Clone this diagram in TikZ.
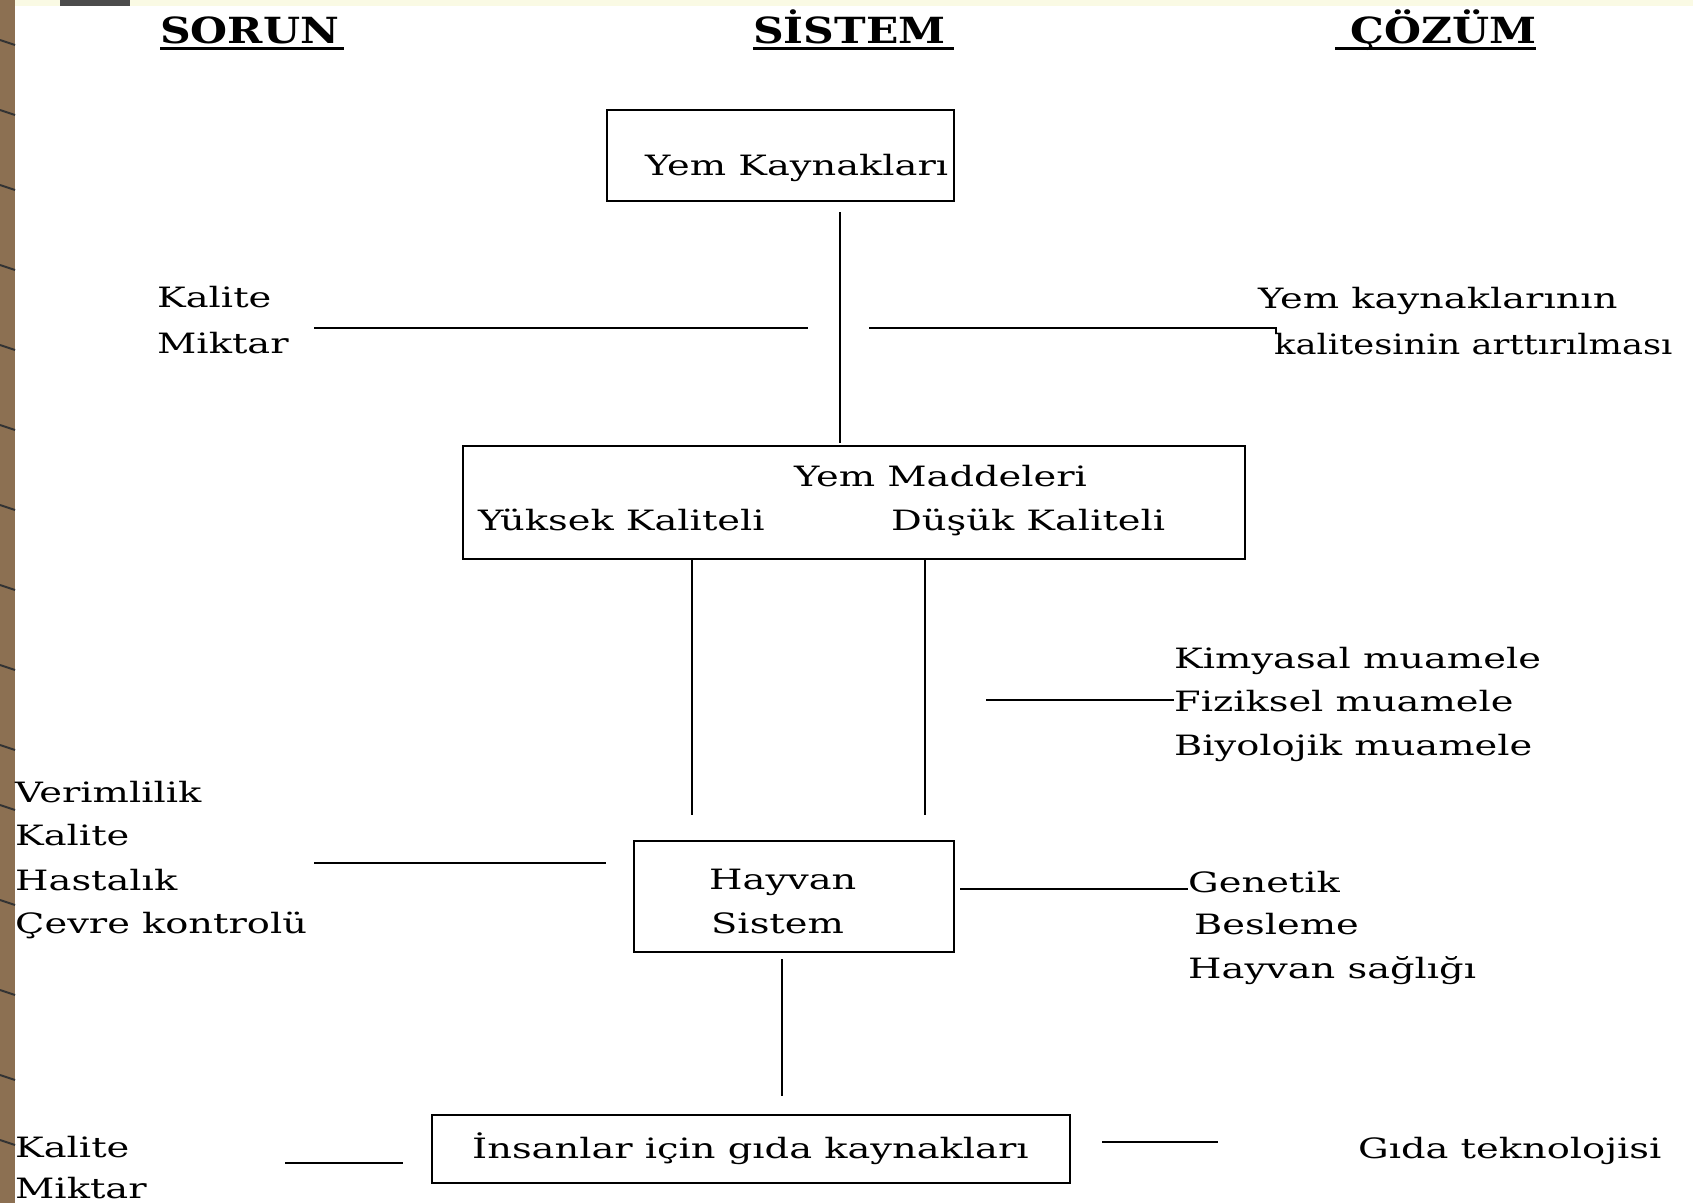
\documentclass[tikz,border=0pt]{standalone}
\usepackage{fontspec}
\setmainfont{DejaVu Serif}[FakeStretch=1.37]
\newfontfamily\hfont{DejaVu Serif}[FakeStretch=1.18]
\newfontfamily\narrowf{DejaVu Serif}[FakeStretch=1.26]
\definecolor{brownstrip}{RGB}{140,112,82}
\definecolor{topband}{RGB}{250,250,228}
\begin{document}
\begin{tikzpicture}[x=1pt,y=-1pt,
  txt/.style={inner sep=0pt, anchor=base west, font=\fontsize{28}{44}\selectfont},
  hdr/.style={inner sep=0pt, anchor=base west, font=\hfont\bfseries\fontsize{36}{40}\selectfont},
  box/.style={draw, line width=1.8pt, inner sep=0pt},
  ln/.style={line width=1.8pt},
  uline/.style={line width=3pt}]
\useasboundingbox (0,0) rectangle (1693,1203);
\fill[white] (0,0) rectangle (1693,1203);
% decorative frame
\fill[topband] (15,0) rectangle (1693,6);
\fill[black!70] (60,0) rectangle (130,6);
\fill[brownstrip] (0,0) rectangle (15,1203);
\foreach \yy in {40,110,185,265,345,425,505,585,665,745,805,900,990,1075,1140}{
  \draw[black!80, line width=2pt] (0,\yy) -- (15,\yy+5);
}
% headers
\node[hdr] (h1) at (160,43) {SORUN};
\node[hdr] (h2) at (753,43) {SİSTEM};
\node[hdr] (h3) at (1350,43) {ÇÖZÜM};
\draw[uline] ([yshift=-5pt]h1.base west) -- ([yshift=-5pt,xshift=5pt]h1.base east);
\draw[uline] ([yshift=-5pt]h2.base west) -- ([yshift=-5pt,xshift=8pt]h2.base east);
\draw[uline] ([yshift=-5pt,xshift=-15pt]h3.base west) -- ([yshift=-5pt]h3.base east);
% boxes
\node[box, minimum width=347pt, minimum height=91pt] (b1) at (780.5,155.5) {};
\node[box, minimum width=782pt, minimum height=113pt] (b2) at (854,502.5) {};
\node[box, minimum width=320pt, minimum height=111pt] (b3) at (794,896.5) {};
\node[box, minimum width=638pt, minimum height=68pt] (b4) at (751,1149) {};
% box texts
\node[txt] (t1) at (645,175) {Yem Kaynakları};
\node[txt] (t2a) at (794,486) {Yem Maddeleri};
\node[txt] (t2b) at (478,530) {Yüksek Kaliteli};
\node[txt] (t2c) at (891,530) {Düşük Kaliteli};
\node[txt] (t3a) at (709,889) {Hayvan};
\node[txt] (t3b) at (711,933) {Sistem};
\node[txt] (t4) at (472,1158) {İnsanlar için gıda kaynakları};
% side texts
\node[txt] (p1a) at (157,307) {Kalite};
\node[txt] (p1b) at (157,353) {Miktar};
\node[txt] (s1a) at (1258,308) {Yem kaynaklarının};
\node[txt, font=\narrowf\fontsize{28}{44}\selectfont] (s1b) at (1274,354) {kalitesinin arttırılması};
\node[txt] (s2a) at (1174,668) {Kimyasal muamele};
\node[txt] (s2b) at (1174,711) {Fiziksel muamele};
\node[txt] (s2c) at (1174,755) {Biyolojik muamele};
\node[txt] (p3a) at (15,802) {Verimlilik};
\node[txt] (p3b) at (15,845) {Kalite};
\node[txt] (p3c) at (15,890) {Hastalık};
\node[txt] (p3d) at (15,933) {Çevre kontrolü};
\node[txt] (s3a) at (1188,892) {Genetik};
\node[txt] (s3b) at (1194,934) {Besleme};
\node[txt] (s3c) at (1188,978) {Hayvan sağlığı};
\node[txt] (p4a) at (15,1157) {Kalite};
\node[txt] (p4b) at (15,1198) {Miktar};
\node[txt] (s4) at (1358,1158) {Gıda teknolojisi};
% connector end points
\coordinate (v1s) at (840,212); \coordinate (v1e) at (840,443);
\coordinate (h1ls) at (314,328); \coordinate (h1le) at (808,328);
\coordinate (h1rs) at (869,328); \coordinate (h1re) at (1276,328); \coordinate (h1rt) at (1276,334);
\coordinate (v2as) at (692,559); \coordinate (v2ae) at (692,815);
\coordinate (v2bs) at (925,559); \coordinate (v2be) at (925,815);
\coordinate (h2s) at (986,700); \coordinate (h2e) at (1174,700);
\coordinate (h3ls) at (314,863); \coordinate (h3le) at (606,863);
\coordinate (h3rs) at (960,889); \coordinate (h3re) at (1188,889);
\coordinate (v3s) at (782,959); \coordinate (v3e) at (782,1096);
\coordinate (h4ls) at (285,1163); \coordinate (h4le) at (403,1163);
\coordinate (h4rs) at (1102,1142); \coordinate (h4re) at (1218,1142);
% connectors
\draw[ln] (v1s) -- (v1e);
\draw[ln] (h1ls) -- (h1le);
\draw[ln] (h1rs) -- (h1re) -- (h1rt);
\draw[ln] (v2as) -- (v2ae);
\draw[ln] (v2bs) -- (v2be);
\draw[ln] (h2s) -- (h2e);
\draw[ln] (h3ls) -- (h3le);
\draw[ln] (h3rs) -- (h3re);
\draw[ln] (v3s) -- (v3e);
\draw[ln] (h4ls) -- (h4le);
\draw[ln] (h4rs) -- (h4re);
\end{tikzpicture}
\end{document}
